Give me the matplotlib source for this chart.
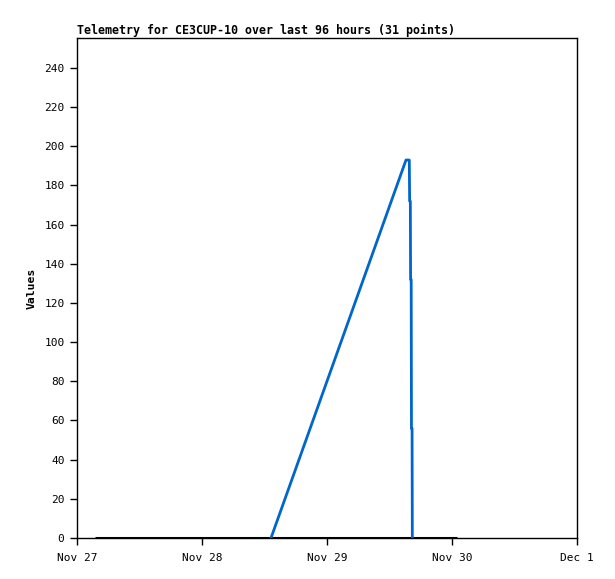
import matplotlib
matplotlib.use("Agg")
import matplotlib.pyplot as plt
import pandas as pd

# ---- data ----
title = "Telemetry for CE3CUP-10 over last 96 hours (31 points)"
blue_times = ["2023-11-28 13:15", "2023-11-29 15:10", "2023-11-29 15:48",
              "2023-11-29 15:52", "2023-11-29 16:00", "2023-11-29 16:03",
              "2023-11-29 16:10", "2023-11-29 16:13", "2023-11-29 16:20",
              "2023-11-29 16:23"]
blue_values = [0, 193, 193, 172, 172, 132, 132, 56, 56, 0]
black_times = ["2023-11-27 03:30", "2023-11-28 00:00", "2023-11-29 00:00",
               "2023-11-30 00:55"]
black_values = [0, 0, 0, 0]
tick_times = ["2023-11-27", "2023-11-28", "2023-11-29", "2023-11-30", "2023-12-01"]
tick_labels = ["Nov 27", "Nov 28", "Nov 29", "Nov 30", "Dec 1"]
y_ticks = list(range(0, 241, 20))

bt = pd.to_datetime(blue_times)
kt = pd.to_datetime(black_times)
tt = pd.to_datetime(tick_times)

fig = plt.figure(figsize=(6.15, 5.79), dpi=100)
ax = fig.add_axes([77/615, 1-538/579, 500/615, 500/579])

ax.plot(kt, black_values, color="black", lw=2.2, solid_capstyle="butt", zorder=3)
ax.plot(bt, blue_values, color="#0066cc", lw=2.0, zorder=4)

ax.set_xlim(tt[0], tt[-1])
ax.set_ylim(0, 255.3)
ax.set_xticks(tt)
ax.set_xticklabels(tick_labels)
ax.set_yticks(y_ticks)

font = "DejaVu Sans Mono"
for lab in ax.get_xticklabels() + ax.get_yticklabels():
    lab.set_fontfamily(font)
    lab.set_fontsize(8)
ax.tick_params(direction="out", length=5, width=1, color="black", pad=4)
ax.tick_params(axis="x", pad=6)
for s in ax.spines.values():
    s.set_color("black")
    s.set_linewidth(1)

ax.set_ylabel("Values", fontfamily=font, fontweight="bold", fontsize=8.2, va="center")
ax.yaxis.set_label_coords(-0.09, 0.5)
fig.text(77/615, 1-34/579, title, fontfamily=font, fontweight="bold",
         fontsize=8.4, ha="left", va="baseline")

fig.savefig("out.png", dpi=100, facecolor="white")
